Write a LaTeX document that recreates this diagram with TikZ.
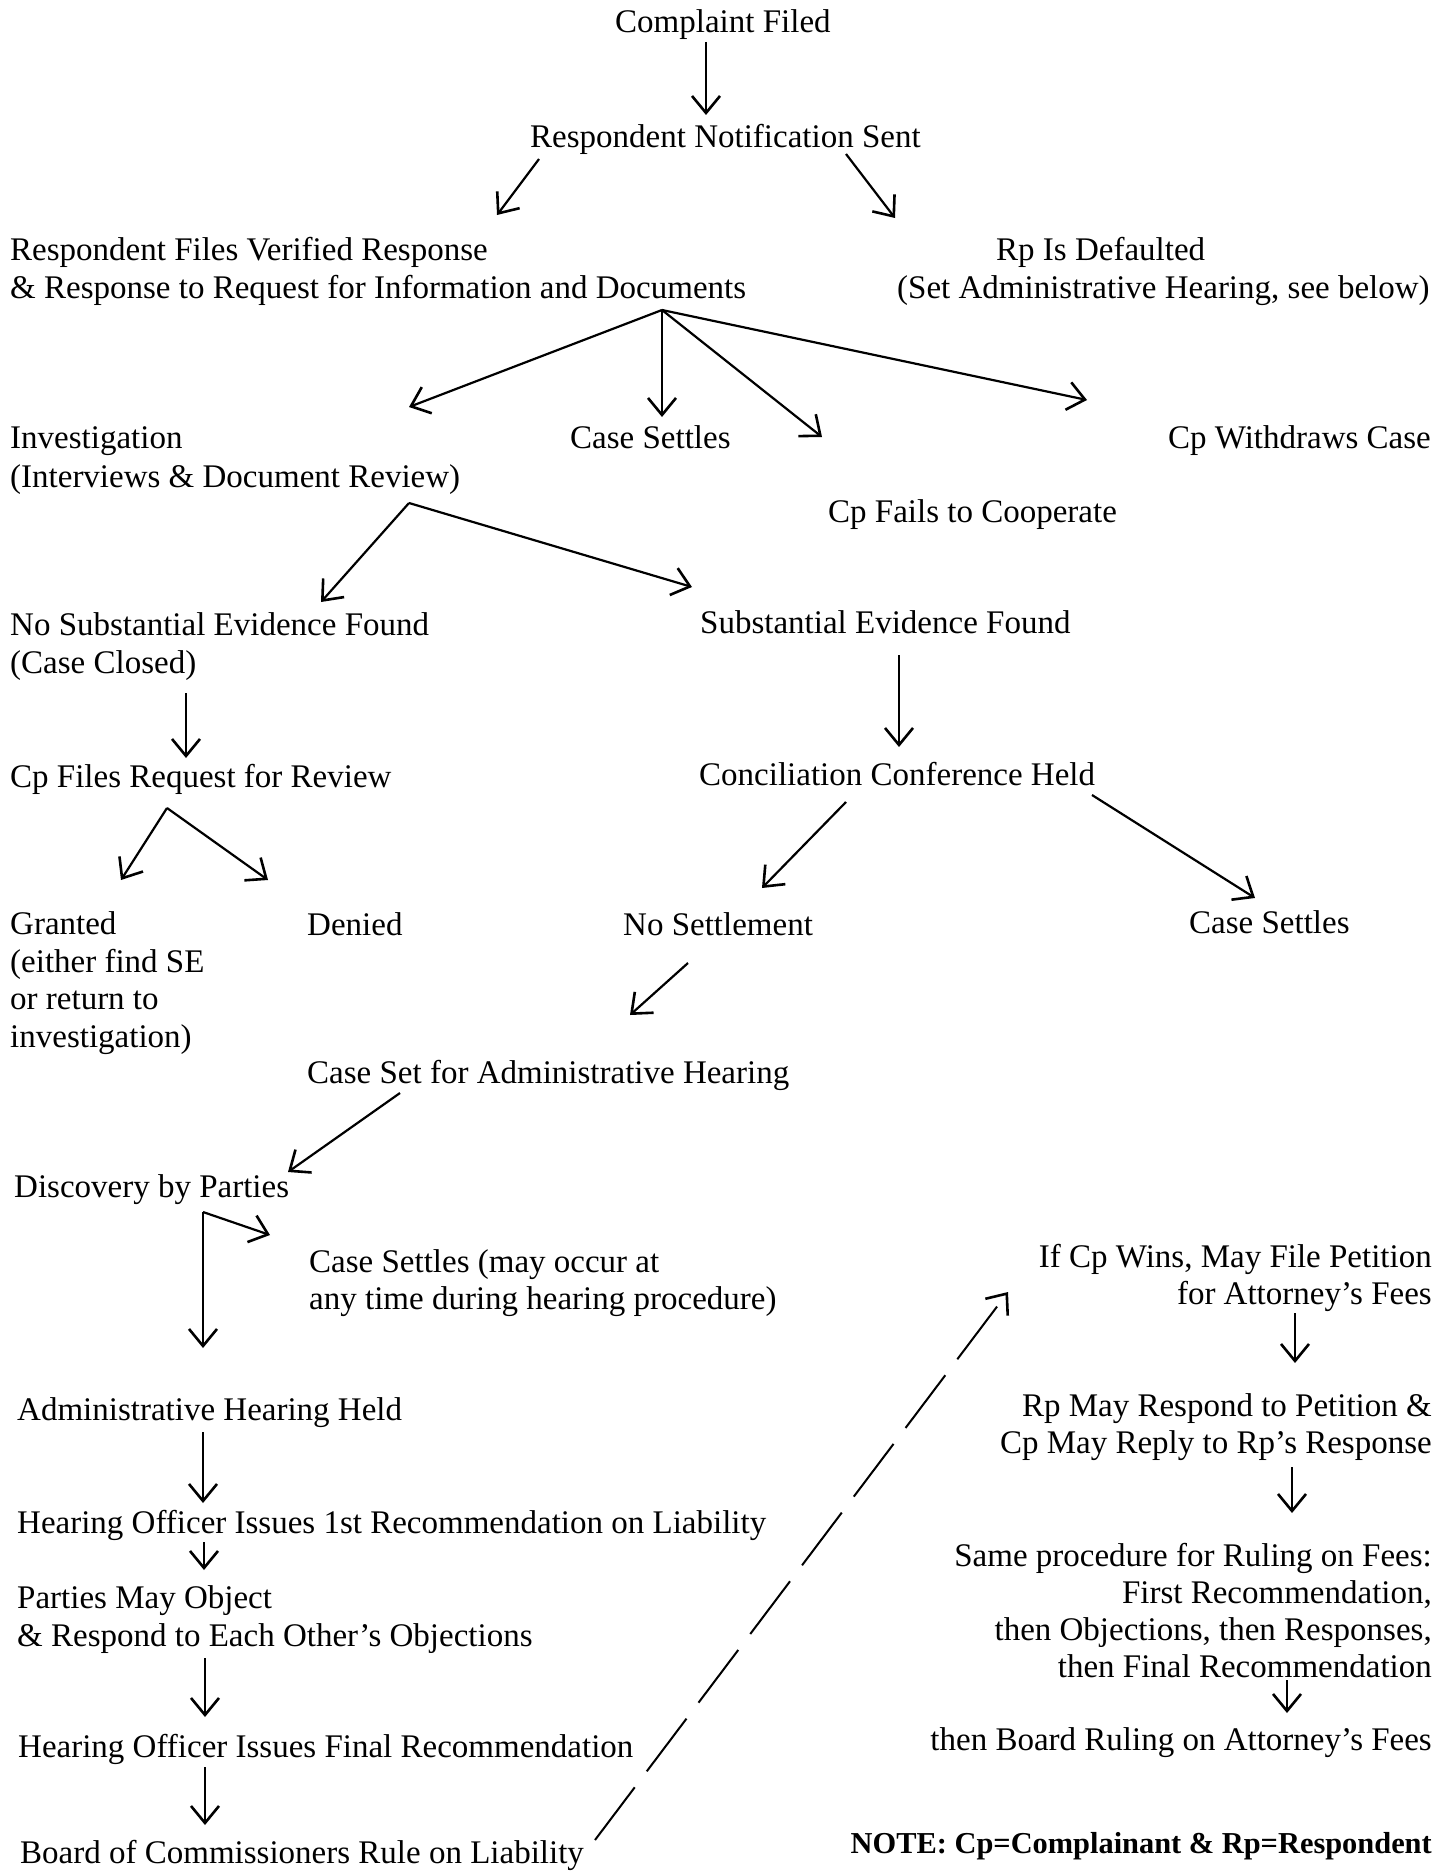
\documentclass[tikz,border=0pt]{standalone}
\usepackage{fontspec}
\setmainfont{Liberation Serif}
\usetikzlibrary{arrows.meta}
\begin{document}
\begin{tikzpicture}[x=1pt,y=-1pt,
  txt/.style={inner sep=0pt, font=\fontsize{33}{38}\selectfont, anchor=base west, align=left},
  txtr/.style={inner sep=0pt, font=\fontsize{33}{37}\selectfont, anchor=base east, align=right},
  arr/.style={line width=2.2pt, -{Straight Barb[length=17pt,width=28pt,line width=2.6pt]}},
  dsh/.style={line width=2pt, dash pattern=on 66pt off 20pt, -{Straight Barb[length=17pt,width=28pt,line width=2.6pt]}}]
\useasboundingbox (0,0) rectangle (1450,1873);

% nodes (multi-line nodes are placed at the baseline of their last line)
\node[txt] (c) at (615,33) {Complaint Filed};
\node[txt] (n) at (530,147) {Respondent Notification Sent};
\node[txt] (rf) at (10,298) {Respondent Files Verified Response\\\& Response to Request for Information and Documents};
\node[txt] (rd) at (897,298) {\hspace*{99pt}Rp Is Defaulted\\(Set Administrative Hearing, see below)};
\node[txt, font=\fontsize{33}{39}\selectfont] (inv) at (10,487) {Investigation\\(Interviews \& Document Review)};
\node[txt] (cs1) at (570,448) {Case Settles};
\node[txt] (cpw) at (1168,448) {Cp Withdraws Case};
\node[txt] (cpf) at (828,522) {Cp Fails to Cooperate};
\node[txt] (nse) at (10,673) {No Substantial Evidence Found\\(Case Closed)};
\node[txt] (se) at (700,633) {Substantial Evidence Found};
\node[txt] (rev) at (10,787) {Cp Files Request for Review};
\node[txt] (ccf) at (699,785) {Conciliation Conference Held};
\node[txt, font=\fontsize{33}{37.5}\selectfont] (gr) at (10,1047) {Granted\\(either find SE\\or return to\\investigation)};
\node[txt] (den) at (307,935) {Denied};
\node[txt] (nos) at (623,935) {No Settlement};
\node[txt] (cs2) at (1189,933) {Case Settles};
\node[txt] (csa) at (307,1083) {Case Set for Administrative Hearing};
\node[txt] (disc) at (14,1197) {Discovery by Parties};
\node[txt, font=\fontsize{33}{37}\selectfont] (cs3) at (309,1309) {Case Settles (may occur at\\any time during hearing procedure)};
\node[txt] (ahh) at (17,1420) {Administrative Hearing Held};
\node[txt] (ho1) at (17,1533) {Hearing Officer Issues 1st Recommendation on Liability};
\node[txt] (pmo) at (17,1646) {Parties May Object\\\& Respond to Each Other's Objections};
\node[txt] (hof) at (18,1757) {Hearing Officer Issues Final Recommendation};
\node[txt] (bcr) at (20,1863) {Board of Commissioners Rule on Liability};
\node[txtr] (ifc) at (1432,1304) {If Cp Wins, May File Petition\\for Attorney's Fees};
\node[txtr] (rpm) at (1432,1453) {Rp May Respond to Petition \&\\Cp May Reply to Rp's Response};
\node[txtr] (same) at (1432,1677) {Same procedure for Ruling on Fees:\\First Recommendation,\\then Objections, then Responses,\\then Final Recommendation};
\node[txtr] (brf) at (1432,1750) {then Board Ruling on Attorney's Fees};
\node[txtr, font=\fontsize{30.4}{36}\selectfont\bfseries] (note) at (1432,1853) {NOTE: Cp=Complainant \& Rp=Respondent};

% connector end points
\coordinate (c-o) at (706,42);   \coordinate (n-i) at (706,115);
\coordinate (n-ol) at (539,159); \coordinate (rf-i) at (497,215);
\coordinate (n-or) at (846,154); \coordinate (rd-i) at (895,218);
\coordinate (rf-o) at (662,310);
\coordinate (inv-i) at (409,407); \coordinate (cs1-i) at (662,417);
\coordinate (cpf-i) at (822,437); \coordinate (cpw-i) at (1087,400);
\coordinate (inv-o) at (409,503);
\coordinate (nse-i) at (321,602); \coordinate (se-i) at (692,587);
\coordinate (se-o) at (899,655);  \coordinate (ccf-i) at (899,747);
\coordinate (nse-o) at (186,693); \coordinate (rev-i) at (186,758);
\coordinate (rev-o) at (167,808);
\coordinate (gr-i) at (121,880);  \coordinate (den-i) at (268,880);
\coordinate (ccf-ol) at (846,802); \coordinate (nos-i) at (762,888);
\coordinate (ccf-or) at (1092,795); \coordinate (cs2-i) at (1255,898);
\coordinate (nos-o) at (688,963); \coordinate (csa-i) at (630,1015);
\coordinate (csa-o) at (400,1093); \coordinate (disc-i) at (288,1172);
\coordinate (disc-o) at (203,1212);
\coordinate (cs3-i) at (270,1235); \coordinate (ahh-i) at (203,1348);
\coordinate (ahh-o) at (203,1432); \coordinate (ho1-i) at (203,1503);
\coordinate (ho1-o) at (204,1542); \coordinate (pmo-i) at (204,1570);
\coordinate (pmo-o) at (205,1658); \coordinate (hof-i) at (205,1717);
\coordinate (hof-o) at (205,1767); \coordinate (bcr-i) at (205,1825);
\coordinate (bcr-o) at (595,1840); \coordinate (ifc-i) at (1008,1292);
\coordinate (ifc-o) at (1295,1313); \coordinate (rpm-i) at (1295,1363);
\coordinate (rpm-o) at (1292,1467); \coordinate (same-i) at (1292,1513);
\coordinate (same-o) at (1287,1680); \coordinate (brf-i) at (1287,1713);

% connectors
\draw[arr] (c-o) -- (n-i);
\draw[arr] (n-ol) -- (rf-i);
\draw[arr] (n-or) -- (rd-i);
\draw[arr] (rf-o) -- (inv-i);
\draw[arr] (rf-o) -- (cs1-i);
\draw[arr] (rf-o) -- (cpf-i);
\draw[arr] (rf-o) -- (cpw-i);
\draw[arr] (inv-o) -- (nse-i);
\draw[arr] (inv-o) -- (se-i);
\draw[arr] (se-o) -- (ccf-i);
\draw[arr] (nse-o) -- (rev-i);
\draw[arr] (rev-o) -- (gr-i);
\draw[arr] (rev-o) -- (den-i);
\draw[arr] (ccf-ol) -- (nos-i);
\draw[arr] (ccf-or) -- (cs2-i);
\draw[arr] (nos-o) -- (csa-i);
\draw[arr] (csa-o) -- (disc-i);
\draw[arr] (disc-o) -- (cs3-i);
\draw[arr] (disc-o) -- (ahh-i);
\draw[arr] (ahh-o) -- (ho1-i);
\draw[arr] (ho1-o) -- (pmo-i);
\draw[arr] (pmo-o) -- (hof-i);
\draw[arr] (hof-o) -- (bcr-i);
\draw[dsh] (bcr-o) -- (ifc-i);
\draw[arr] (ifc-o) -- (rpm-i);
\draw[arr] (rpm-o) -- (same-i);
\draw[arr] (same-o) -- (brf-i);
\end{tikzpicture}
\end{document}
